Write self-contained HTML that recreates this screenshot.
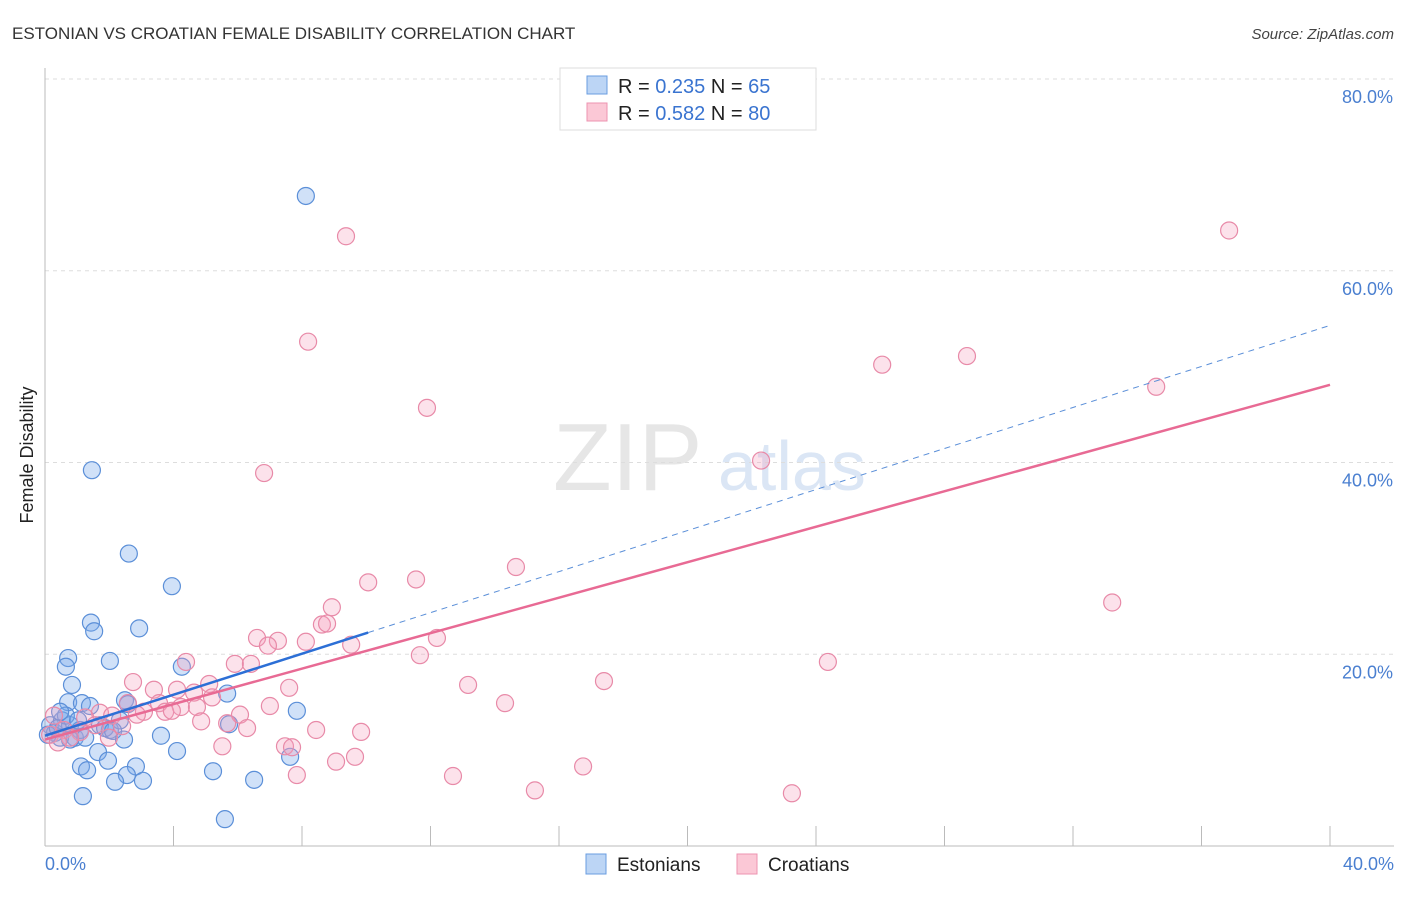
<!DOCTYPE html>
<html><head><meta charset="utf-8"><style>
body{margin:0;background:#fff;font-family:"Liberation Sans",sans-serif;}
svg text{font-family:"Liberation Sans",sans-serif;}
</style></head><body>
<svg id="c" width="1406" height="892" xmlns="http://www.w3.org/2000/svg">
<text x="12" y="39" font-size="17" fill="#333">ESTONIAN VS CROATIAN FEMALE DISABILITY CORRELATION CHART</text>
<text x="1394" y="39" font-size="15" fill="#444" text-anchor="end" font-style="italic">Source: ZipAtlas.com</text>
<text x="553" y="490" font-size="96" fill="#e6e6e6" font-family="Liberation Serif">ZIP</text>
<text x="718" y="490" font-size="70" fill="#dbe6f5">atlas</text>
<g id="grid"></g><g id="marks"></g><g id="lines"></g>
<text transform="translate(33,455) rotate(-90)" font-size="18" fill="#222" text-anchor="middle">Female Disability</text>
<text x="45" y="870" font-size="18" fill="#4a7fd0">0.0%</text>
<text x="1394" y="870" font-size="18" fill="#4a7fd0" text-anchor="end">40.0%</text>
<g>
<rect x="560" y="68" width="256" height="62" fill="#fff" stroke="#ddd"/>
<rect x="587" y="76" width="20" height="18" fill="#bcd5f5" stroke="#6a9de0"/>
<rect x="587" y="103" width="20" height="18" fill="#fbc8d6" stroke="#ec93b0"/>
<text x="618" y="93" font-size="20" fill="#222">R = <tspan fill="#3a74d0">0.235</tspan>   N = <tspan fill="#3a74d0">65</tspan></text>
<text x="618" y="120" font-size="20" fill="#222">R = <tspan fill="#3a74d0">0.582</tspan>   N = <tspan fill="#3a74d0">80</tspan></text>
</g>
<g>
<rect x="586" y="854" width="20" height="20" fill="#bcd5f5" stroke="#6a9de0"/>
<text x="617" y="871" font-size="19" fill="#222">Estonians</text>
<rect x="737" y="854" width="20" height="20" fill="#fbc8d6" stroke="#ec93b0"/>
<text x="768" y="871" font-size="19" fill="#222">Croatians</text>
</g>
</svg>
<script>
const yTicks=[20,40,60,80];
const yTickLabels=["20.0%","40.0%","60.0%","80.0%"];
const xTicks=[0,4,8,12,16,20,24,28,32,36,40];
const estX=[8.12,1.46,2.61,3.95,2.93,1.43,1.53,0.72,0.65,2.02,4.26,0.84,0.72,1.15,2.49,5.67,7.84,2.58,1.40,0.16,0.31,0.47,0.53,0.78,0.93,1.09,1.25,0.09,0.40,0.65,1.03,1.71,2.02,2.33,1.87,2.12,3.61,2.46,5.73,1.65,4.11,7.63,1.96,1.12,2.83,1.31,2.55,5.23,2.18,3.05,6.51,1.18,5.60,0.78,0.47];
const estY=[67.8,39.2,30.5,27.1,22.7,23.3,22.4,19.6,18.7,19.3,18.7,16.8,15.0,14.9,15.2,15.9,14.1,14.8,14.6,12.6,11.8,11.3,13.1,12.6,11.3,12.1,11.3,11.6,12.3,13.6,13.1,12.6,12.1,13.1,12.3,12.0,11.5,11.1,12.7,9.8,9.9,9.3,8.9,8.3,8.3,7.9,7.4,7.8,6.7,6.8,6.9,5.2,2.8,11.1,14.0];
const croX=[36.86,9.37,8.19,26.06,28.70,34.59,11.89,22.29,6.82,14.66,11.55,10.06,8.93,33.22,8.62,8.78,6.60,7.25,8.12,12.20,9.53,6.94,11.67,24.37,4.39,5.91,6.41,2.74,5.11,13.17,17.40,7.60,3.39,4.11,4.64,5.20,3.55,2.58,14.32,7.00,4.23,4.73,3.08,3.74,3.95,6.07,1.71,2.09,0.28,1.25,2.86,4.86,5.67,1.56,2.40,6.29,8.44,9.84,0.59,1.09,5.52,7.47,7.69,9.65,9.06,7.84,12.70,16.75,15.25,23.25,0.16,0.78,0.40,1.99];
const croY=[64.2,63.6,52.6,50.2,51.1,47.9,45.7,40.2,38.9,29.1,27.8,27.5,24.9,25.4,23.1,23.2,21.7,21.4,21.3,21.7,21.0,20.9,19.9,19.2,19.2,19.0,19.0,17.1,16.9,16.8,17.2,16.5,16.3,16.3,16.0,15.5,14.9,14.9,14.9,14.6,14.5,14.5,14.0,14.0,14.1,13.7,13.9,13.6,13.6,13.4,13.7,13.0,12.8,12.6,12.5,12.3,12.1,11.9,12.1,11.9,10.4,10.4,10.3,9.3,8.8,7.4,7.3,8.3,5.8,5.5,11.6,11.3,10.8,11.3];
const estFit=[11.5,1.07];
const croFit=[11.1,0.925];
const NS="http://www.w3.org/2000/svg";
const X=v=>45+v*(1285/40);
const Y=v=>846-v*(767/80);
function mk(tag,at,parent){const e=document.createElementNS(NS,tag);for(const k in at)e.setAttribute(k,at[k]);parent.appendChild(e);return e;}
const grid=document.getElementById('grid'),marks=document.getElementById('marks'),lines=document.getElementById('lines');
yTicks.forEach((t,i)=>{
 const l=mk('line',{x1:45,x2:1394,y1:Y(t),y2:Y(t),stroke:'#ddd','stroke-dasharray':'4,4'},grid);
 
 
 const tx=mk('text',{x:1393,y:Y(t)+24,'font-size':18,fill:'#4a7fd0','text-anchor':'end'},grid);
 tx.textContent=yTickLabels[i];
 
 
});
const ax=mk('line',{x1:45,x2:1394,y1:846,y2:846,stroke:'#bbb'},grid);


const ay=mk('line',{x1:45,x2:45,y1:68,y2:846,stroke:'#bbb'},grid);


xTicks.forEach(t=>{const l=mk('line',{x1:X(t),x2:X(t),y1:826,y2:846,stroke:'#bbb'},grid);
 
 });
estX.forEach((v,i)=>{const c=mk('circle',{cx:X(v),cy:Y(estY[i]),r:8.5,fill:'rgba(120,170,235,0.35)',stroke:'#5b8fd8','stroke-width':1.2},marks);
 
 });
croX.forEach((v,i)=>{const c=mk('circle',{cx:X(v),cy:Y(croY[i]),r:8.5,fill:'rgba(245,160,190,0.3)',stroke:'#e88aa8','stroke-width':1.2},marks);
 
 });
const f=(p,x)=>p[0]+p[1]*x;
let l1=mk('line',{x1:X(0),y1:Y(f(estFit,0)),x2:X(10.06),y2:Y(f(estFit,10.06)),stroke:'#2c6fd6','stroke-width':2.5},lines);


let l2=mk('line',{x1:X(10.06),y1:Y(f(estFit,10.06)),x2:X(40),y2:Y(f(estFit,40)),stroke:'#5b8fd8','stroke-width':1,'stroke-dasharray':'6,5'},lines);


let l3=mk('line',{x1:X(0),y1:Y(f(croFit,0)),x2:X(40),y2:Y(f(croFit,40)),stroke:'#e86a94','stroke-width':2.5},lines);


</script>
</body></html>
